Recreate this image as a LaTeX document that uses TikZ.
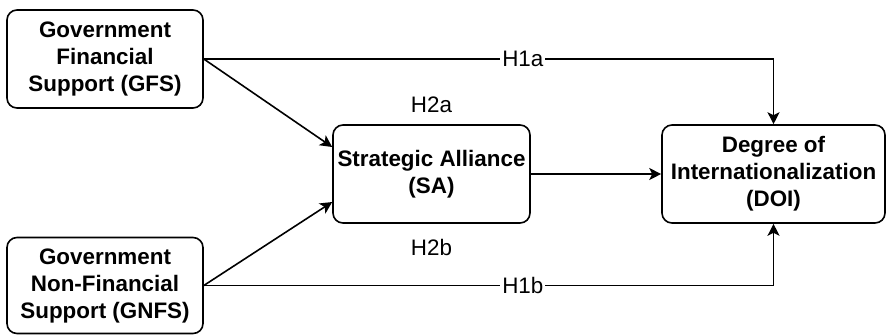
\documentclass[tikz,border=0pt]{standalone}
\usepackage{fontspec}
\setmainfont{Liberation Sans}
\usepackage{tikz}
\usetikzlibrary{positioning,arrows.meta,calc}

\begin{document}
\begin{tikzpicture}[x=0.5pt,y=0.5pt,
    font=\fontsize{11.2}{13.5}\selectfont,
    box/.style={draw, line width=0.8pt, rounded corners=5pt, align=center,
      font=\fontsize{11.2}{13.5}\selectfont\bfseries, inner sep=2pt},
    lbl/.style={fill=white, inner sep=1pt},
    >={Stealth[length=6pt,width=6pt,inset=1.5pt]}]
    \useasboundingbox (0,0) rectangle (887,334);
    \node[box, minimum width=98pt, minimum height=49pt] (gfs) at (105,275) {Government\\Financial\\Support (GFS)};
    \node[box, minimum width=98pt, minimum height=48pt] (gnfs) at (105,48.5) {Government\\Non-Financial\\Support (GNFS)};
    \node[box, minimum width=98.5pt, minimum height=49pt] (sa) at (431.5,160) {Strategic Alliance\\(SA)};
    \node[box, minimum width=111.5pt, minimum height=49pt] (doi) at (773.5,160) {Degree of\\Internationalization\\(DOI)};
    \node[above=2pt of sa] (h2a) {H2a};
    \node[below=4pt of sa] (h2b) {H2b};
    \draw[->, line width=0.8pt] (gfs.east) -| node[lbl, pos=0.28] (h1a) {H1a} (doi.north);
    \draw[->, line width=0.8pt] (gnfs.east) -| node[lbl, pos=0.28] (h1b) {H1b} (doi.south);
    \draw[->, line width=0.8pt] (gfs.east) -- ([yshift=13.5pt]sa.west);
    \draw[->, line width=0.8pt] (gnfs.east) -- ([yshift=-14pt]sa.west);
    \draw[->, line width=0.8pt] (sa.east) -- (doi.west);
  \end{tikzpicture}
\end{document}
